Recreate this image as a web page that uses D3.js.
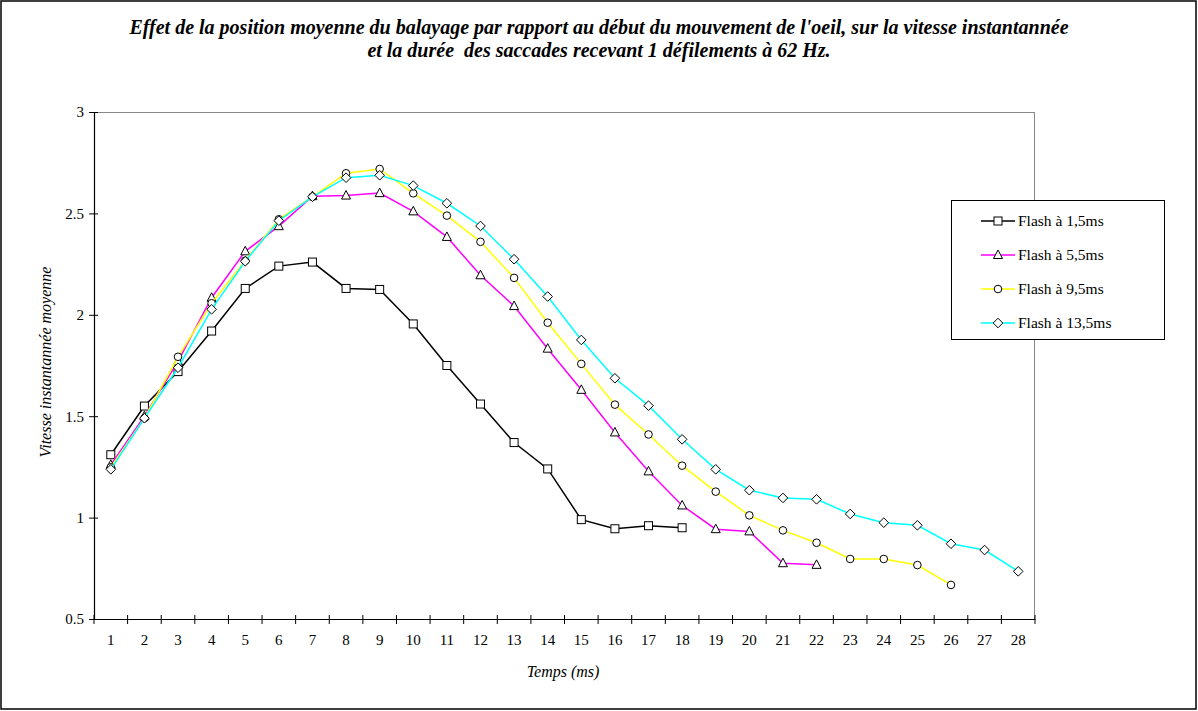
<!DOCTYPE html>
<html><head><meta charset="utf-8">
<script src="https://cdn.jsdelivr.net/npm/d3@7"></script>
<style>
body{margin:0;background:#fff;}
svg{display:block;}
svg text{font-family:"Liberation Serif","Times New Roman","DejaVu Serif",serif !important;fill:#000;}
</style></head>
<body><svg id="chart" width="1198" height="711"></svg>
<script>
const categories = d3.range(1, 29);
const seriesNames = ["Flash à 1,5ms", "Flash à 5,5ms", "Flash à 9,5ms", "Flash à 13,5ms"];
const flash15 = [1.31,1.55,1.72,1.92,2.13,2.24,2.26,2.13,2.125,1.955,1.75,1.56,1.37,1.24,0.99,0.945,0.96,0.95];
const flash55 = [1.26,1.50,1.77,2.084,2.313,2.437,2.585,2.588,2.60,2.51,2.384,2.195,2.043,1.833,1.63,1.42,1.228,1.06,0.943,0.932,0.775,0.767];
const flash95 = [1.248,1.49,1.793,2.057,2.267,2.471,2.582,2.698,2.719,2.599,2.489,2.36,2.182,1.961,1.758,1.557,1.41,1.256,1.128,1.011,0.937,0.876,0.796,0.796,0.766,0.668];
const flash135 = [1.238,1.49,1.739,2.027,2.264,2.464,2.582,2.676,2.688,2.637,2.55,2.438,2.274,2.09,1.876,1.687,1.552,1.386,1.238,1.135,1.097,1.09,1.018,0.975,0.962,0.871,0.84,0.735];
const yTicks = [0.5, 1, 1.5, 2, 2.5, 3];
const titleLines = ["Effet de la position moyenne du balayage par rapport au début du mouvement de l'oeil, sur la vitesse instantannée",
                    "et la durée  des saccades recevant 1 défilements à 62 Hz."];
const xTitle = "Temps (ms)";
const yTitle = "Vitesse instantannée moyenne";

const seriesData = [flash15, flash55, flash95, flash135];
const colors = ["#000000", "#FF00FF", "#FFFF00", "#00FFFF"];
const markers = ["square", "triangle", "circle", "diamond"];
const FF = "Liberation Serif, Times New Roman, serif";

const svg = d3.select("#chart");
const L = 94, R = 1035, T = 112, B = 619;

svg.append("rect").attr("x", 1).attr("y", 1).attr("width", 1195).attr("height", 708)
  .attr("fill", "#fff").attr("stroke", "#000").attr("stroke-width", 1.5);

const x = d3.scaleBand().domain(categories).range([L, R]).padding(0);
const y = d3.scaleLinear().domain([0.5, 3]).range([B, T]);
const cx = d => x(d) + x.bandwidth() / 2;

svg.append("line").attr("x1", L).attr("x2", R).attr("y1", T + 0.5).attr("y2", T + 0.5).attr("stroke", "#888").attr("stroke-width", 1);
svg.append("line").attr("x1", R - 0.5).attr("x2", R - 0.5).attr("y1", T).attr("y2", B).attr("stroke", "#888").attr("stroke-width", 1);

const yAxis = svg.append("g").attr("transform", `translate(${L},0)`)
  .call(d3.axisLeft(y).tickValues(yTicks).tickFormat(d3.format("")).tickSize(5).tickPadding(5));
yAxis.attr("font-family", FF);
yAxis.select(".domain").attr("stroke", "#000").attr("stroke-width", 1.2);
yAxis.selectAll(".tick line").attr("x1", 4).attr("x2", -5).attr("stroke", "#000");
yAxis.selectAll(".tick text").attr("font-size", 15).attr("font-family", FF);

const xAxis = svg.append("g").attr("transform", `translate(0,${B})`)
  .call(d3.axisBottom(x).tickSize(0).tickPadding(15));
xAxis.attr("font-family", FF);
xAxis.select(".domain").attr("stroke", "#000").attr("stroke-width", 1.2);
xAxis.selectAll(".tick text").attr("font-size", 15).attr("font-family", FF);
const bounds = categories.map(c => x(c)).concat([R]);
svg.append("g").selectAll("line").data(bounds).join("line")
  .attr("x1", d => d).attr("x2", d => d).attr("y1", B - 4).attr("y2", B + 5)
  .attr("stroke", "#000").attr("stroke-width", 1);

const title = svg.append("text").attr("text-anchor", "middle").attr("font-weight", "bold")
  .attr("font-style", "italic").attr("font-size", 20).attr("font-family", FF)
  .style("white-space", "pre").attr("xml:space", "preserve");
title.append("tspan").attr("x", 599).attr("y", 34).style("white-space", "pre").text(titleLines[0]);
title.append("tspan").attr("x", 599).attr("y", 57).style("white-space", "pre").text(titleLines[1]);

svg.append("text").attr("x", 563).attr("y", 677).attr("text-anchor", "middle").attr("font-family", FF)
  .attr("font-style", "italic").attr("font-size", 16).text(xTitle);
svg.append("text").attr("transform", "translate(51,362) rotate(-90)").attr("text-anchor", "middle").attr("font-family", FF)
  .attr("font-style", "italic").attr("font-size", 16).text(yTitle);

function drawMarker(g, type, px, py) {
  if (type === "square") {
    g.append("rect").attr("x", px - 4).attr("y", py - 4).attr("width", 8).attr("height", 8)
      .attr("fill", "#fff").attr("stroke", "#000").attr("stroke-width", 1);
  } else if (type === "triangle") {
    g.append("path").attr("d", `M${px},${py - 5}L${px + 4.5},${py + 3.5}L${px - 4.5},${py + 3.5}Z`)
      .attr("fill", "#fff").attr("stroke", "#000").attr("stroke-width", 1);
  } else if (type === "circle") {
    g.append("circle").attr("cx", px).attr("cy", py).attr("r", 3.8)
      .attr("fill", "#fff").attr("stroke", "#000").attr("stroke-width", 1);
  } else {
    g.append("path").attr("d", `M${px},${py - 4.8}L${px + 4.8},${py}L${px},${py + 4.8}L${px - 4.8},${py}Z`)
      .attr("fill", "#fff").attr("stroke", "#000").attr("stroke-width", 1);
  }
}

const line = d3.line().x((d, i) => cx(categories[i])).y(d => y(d));
seriesData.forEach((vals, s) => {
  const g = svg.append("g");
  g.append("path").attr("d", line(vals)).attr("fill", "none").attr("stroke", colors[s]).attr("stroke-width", 1.5);
  vals.forEach((v, i) => drawMarker(g, markers[s], cx(categories[i]), y(v)));
});

const lg = svg.append("g");
lg.append("rect").attr("x", 951.5).attr("y", 200.5).attr("width", 213).attr("height", 139)
  .attr("fill", "#fff").attr("stroke", "#000").attr("stroke-width", 1);
seriesNames.forEach((name, s) => {
  const ly = 221 + s * 34;
  lg.append("line").attr("x1", 981).attr("x2", 1015).attr("y1", ly).attr("y2", ly)
    .attr("stroke", colors[s]).attr("stroke-width", 1.5);
  drawMarker(lg, markers[s], 998, ly);
  lg.append("text").attr("x", 1018).attr("y", ly + 5).attr("font-size", 15.5).attr("font-family", FF).text(name);
});
</script></body></html>
